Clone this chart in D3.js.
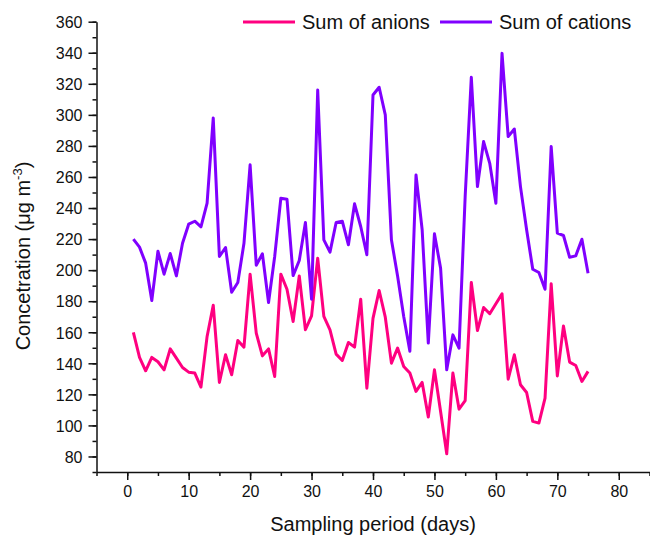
<!DOCTYPE html>
<html>
<head>
<meta charset="utf-8">
<script src="https://cdn.jsdelivr.net/npm/d3@7"></script>
<style>
  body { margin: 0; background: #fff; }
  text { font-family: Arial, "Liberation Sans", sans-serif; fill: #111; }
</style>
</head>
<body>
<div id="graph_here"></div>
<script>
// sampling days 1..75
const days = d3.range(1, 76);

const anions = [
  159.9, 143.8, 135.2, 143.8, 141.0, 135.8, 149.3, 143.3, 137.3, 134.3,
  133.7, 124.7, 157.3, 177.4, 127.7, 145.5, 132.6, 154.7, 150.4, 197.4,
  159.4, 144.8, 149.3, 131.5, 197.4, 187.7, 166.9, 196.3, 161.6, 170.6,
  207.7, 170.2, 161.6, 145.9, 141.8, 153.4, 150.4, 181.3, 124.0, 168.9,
  186.9, 169.7, 140.1, 149.8, 138.0, 133.7, 121.9, 127.7, 105.4, 135.8,
  109.0, 81.7, 133.7, 110.5, 115.9, 192.0, 161.1, 175.9, 171.9, 178.3,
  184.7, 129.8, 145.5, 126.2, 121.2, 102.6, 101.5, 117.6, 191.2, 131.9,
  164.1, 140.8, 138.6, 128.3, 134.8
];

const cations = [
  220.0, 214.8, 204.5, 180.4, 212.2, 197.4, 210.7, 196.3, 217.3, 229.6,
  231.5, 227.9, 243.1, 298.0, 208.8, 214.6, 185.8, 192.0, 217.3, 267.8,
  203.2, 210.5, 179.2, 208.8, 246.3, 245.7, 196.5, 206.2, 230.7, 181.3,
  316.0, 219.5, 211.6, 230.7, 231.5, 216.3, 242.7, 228.1, 209.9, 312.8,
  317.8, 300.0, 219.5, 196.3, 170.2, 147.8, 261.3, 226.0, 153.0, 223.4,
  201.3, 135.8, 158.3, 149.8, 247.4, 324.2, 253.8, 282.8, 268.8, 243.1,
  339.6, 286.0, 290.9, 253.8, 226.0, 200.6, 198.5, 187.7, 279.6, 223.8,
  222.3, 208.3, 209.2, 219.9, 198.0
];

const seriesNames = ["Sum of anions", "Sum of cations"];
const seriesColors = ["#ff0080", "#8000ff"];
const xTicks = d3.range(0, 81, 10);
const xMinor = d3.range(-5, 86, 5);
const yTicks = d3.range(80, 361, 20);
const yMinor = d3.range(70, 361, 10);

function drawline(){
    const width = 650;
    const height = 536;
    const left = 96.5, right = 649.5, top = 21.7, bottom = 472;

    const svg = d3.select('#graph_here')
        .append('svg')
        .attr("width", width)
        .attr("height", height);

    const xScale = d3.scaleLinear().domain([-5, 85]).range([left, right]);
    const yScale = d3.scaleLinear().domain([70, 360]).range([bottom, top]);

    // minor ticks first, then major axis on top
    svg.append("g")
        .attr("transform", "translate(0," + bottom + ")")
        .call(d3.axisBottom(xScale).tickValues(xMinor).tickSize(4).tickSizeOuter(0).tickFormat(""))
        .call(g => g.select(".domain").remove());
    svg.append("g")
        .attr("transform", "translate(" + left + ",0)")
        .call(d3.axisLeft(yScale).tickValues(yMinor).tickSize(4).tickSizeOuter(0).tickFormat(""))
        .call(g => g.select(".domain").remove());

    const xAxis = svg.append("g")
        .attr("transform", "translate(0," + bottom + ")")
        .call(d3.axisBottom(xScale).tickValues(xTicks).tickSize(8).tickSizeOuter(0).tickPadding(6));
    const yAxis = svg.append("g")
        .attr("transform", "translate(" + left + ",0)")
        .call(d3.axisLeft(yScale).tickValues(yTicks).tickSize(8).tickSizeOuter(0).tickPadding(6));

    svg.selectAll(".tick line, .domain")
        .attr("stroke", "#111")
        .attr("stroke-width", 1.5);
    xAxis.selectAll("text").style("font-size", "16px").attr("fill", "#111");
    yAxis.selectAll("text").style("font-size", "16px").attr("fill", "#111").attr("dy", "0.36em");

    // lines
    const line = d3.line()
        .x((d, i) => xScale(days[i]))
        .y(d => yScale(d));

    [anions, cations].forEach((s, k) => {
        svg.append("path")
            .attr("d", line(s))
            .attr("fill", "none")
            .attr("stroke", seriesColors[k])
            .attr("stroke-width", 3)
            .attr("stroke-linejoin", "round");
    });

    // legend
    const legX = [243, 440];
    seriesNames.forEach((name, k) => {
        svg.append("line")
            .attr("x1", legX[k]).attr("x2", legX[k] + 52)
            .attr("y1", 22).attr("y2", 22)
            .attr("stroke", seriesColors[k])
            .attr("stroke-width", 3);
        svg.append("text")
            .attr("x", legX[k] + 59)
            .attr("y", 29)
            .style("font-size", "20px")
            .text(name);
    });

    // axis titles
    svg.append("text")
        .attr("x", (left + right) / 2)
        .attr("y", 531)
        .attr("text-anchor", "middle")
        .style("font-size", "20px")
        .text("Sampling period (days)");

    const yt = svg.append("text")
        .attr("transform", "translate(30,256) rotate(-90)")
        .attr("text-anchor", "middle")
        .style("font-size", "20px");
    yt.append("tspan").text("Concetration (\u03bcg m");
    yt.append("tspan").attr("dy", "-8").style("font-size", "13px").text("-3");
    yt.append("tspan").attr("dy", "8").text(")");
}

window.addEventListener('load', drawline);
</script>
</body>
</html>
